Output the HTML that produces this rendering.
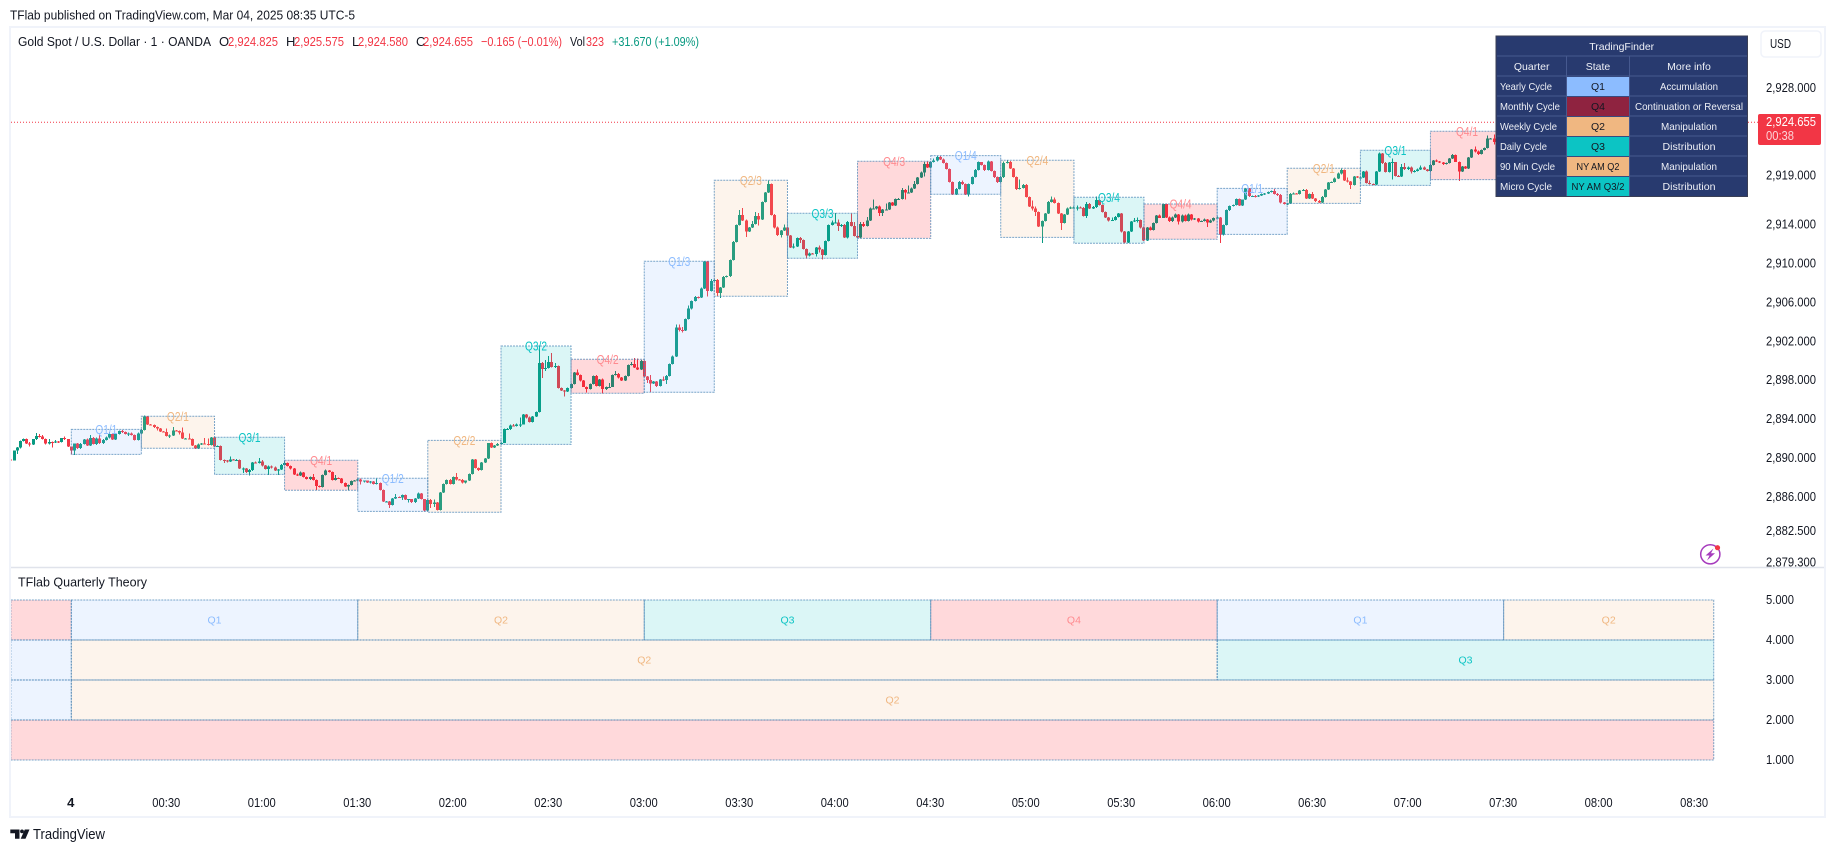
<!DOCTYPE html>
<html lang="en">
<head>
<meta charset="utf-8">
<title>Gold Spot / U.S. Dollar 1m - TFlab Quarterly Theory</title>
<style>
html,body{margin:0;padding:0;background:#fff;width:1835px;height:852px;overflow:hidden}
svg{display:block;font-family:"Liberation Sans",sans-serif}
text{fill:#131722}
.r{fill:#f23645}.g{fill:#089981}
.tb{fill:#eef0f6;font-size:10.5px}
.ts{fill:#131722;font-size:10.5px}
</style>
</head>
<body>
<svg id="chart" xmlns="http://www.w3.org/2000/svg" width="1835" height="852" viewBox="0 0 1835 852">
  <rect x="0" y="0" width="1835" height="852" fill="#fff"/>
  <text x="10" y="19.5" font-size="13" textLength="345" lengthAdjust="spacingAndGlyphs">TFlab published on TradingView.com, Mar 04, 2025 08:35 UTC-5</text>

  <g id="candles" shape-rendering="crispEdges"></g>
  <g id="boxes"></g>
  <line id="priceLine" x1="11" x2="1758" stroke="#f23645" stroke-width="1" stroke-dasharray="1 2"/>

  <g font-size="13">
    <text x="18" y="46" textLength="193" lengthAdjust="spacingAndGlyphs">Gold Spot / U.S. Dollar · 1 · OANDA</text>
    <text x="219" y="46">O</text>
    <text class="r" x="228" y="46" textLength="50" lengthAdjust="spacingAndGlyphs">2,924.825</text>
    <text x="286" y="46">H</text>
    <text class="r" x="294" y="46" textLength="50" lengthAdjust="spacingAndGlyphs">2,925.575</text>
    <text x="352" y="46">L</text>
    <text class="r" x="358" y="46" textLength="50" lengthAdjust="spacingAndGlyphs">2,924.580</text>
    <text x="416" y="46">C</text>
    <text class="r" x="423" y="46" textLength="50" lengthAdjust="spacingAndGlyphs">2,924.655</text>
    <text class="r" x="481" y="46" textLength="81" lengthAdjust="spacingAndGlyphs">−0.165 (−0.01%)</text>
    <text x="570" y="46" textLength="15" lengthAdjust="spacingAndGlyphs">Vol</text>
    <text class="r" x="586" y="46" textLength="18" lengthAdjust="spacingAndGlyphs">323</text>
    <text class="g" x="612" y="46" textLength="87" lengthAdjust="spacingAndGlyphs">+31.670 (+1.09%)</text>
  </g>

  <g>
    <rect x="1496" y="36" width="251.5" height="160.5" fill="#283a6f" stroke="#3a3f55" stroke-width="1"/>
    <g stroke="#46598f" stroke-width="1" shape-rendering="crispEdges">
      <line x1="1497" x2="1747" y1="56" y2="56"/>
      <line x1="1497" x2="1747" y1="76" y2="76"/>
      <line x1="1497" x2="1747" y1="96" y2="96"/>
      <line x1="1497" x2="1747" y1="116" y2="116"/>
      <line x1="1497" x2="1747" y1="136" y2="136"/>
      <line x1="1497" x2="1747" y1="156" y2="156"/>
      <line x1="1497" x2="1747" y1="176" y2="176"/>
      <line x1="1566.5" x2="1566.5" y1="56" y2="196"/>
      <line x1="1629.5" x2="1629.5" y1="56" y2="196"/>
    </g>
    <rect x="1567" y="77" width="62" height="19" fill="#8cbcff"/>
    <rect x="1567" y="97" width="62" height="19" fill="#8f2340"/>
    <rect x="1567" y="117" width="62" height="19" fill="#f0b781"/>
    <rect x="1567" y="137" width="62" height="19" fill="#0cc4c4"/>
    <rect x="1567" y="157" width="62" height="19" fill="#f0b781"/>
    <rect x="1567" y="177" width="62" height="19" fill="#0cc4c4"/>

    <text class="tb" x="1621.7" y="50" text-anchor="middle">TradingFinder</text>
    <text class="tb" x="1531.7" y="70" text-anchor="middle">Quarter</text>
    <text class="tb" x="1598" y="70" text-anchor="middle">State</text>
    <text class="tb" x="1689" y="70" text-anchor="middle">More info</text>

    <text class="tb" x="1500" y="90" textLength="52" lengthAdjust="spacingAndGlyphs">Yearly Cycle</text>
    <text class="tb" x="1500" y="110" textLength="60" lengthAdjust="spacingAndGlyphs">Monthly Cycle</text>
    <text class="tb" x="1500" y="130" textLength="57" lengthAdjust="spacingAndGlyphs">Weekly Cycle</text>
    <text class="tb" x="1500" y="150" textLength="47" lengthAdjust="spacingAndGlyphs">Daily Cycle</text>
    <text class="tb" x="1500" y="170" textLength="55" lengthAdjust="spacingAndGlyphs">90 Min Cycle</text>
    <text class="tb" x="1500" y="190" textLength="52" lengthAdjust="spacingAndGlyphs">Micro Cycle</text>

    <text class="ts" x="1598" y="90" text-anchor="middle">Q1</text>
    <text class="ts" x="1598" y="110" text-anchor="middle">Q4</text>
    <text class="ts" x="1598" y="130" text-anchor="middle">Q2</text>
    <text class="ts" x="1598" y="150" text-anchor="middle">Q3</text>
    <text class="ts" x="1598" y="170" text-anchor="middle" textLength="43" lengthAdjust="spacingAndGlyphs">NY AM Q2</text>
    <text class="ts" x="1598" y="190" text-anchor="middle" textLength="53" lengthAdjust="spacingAndGlyphs">NY AM Q3/2</text>

    <text class="tb" x="1689" y="90" text-anchor="middle" textLength="58" lengthAdjust="spacingAndGlyphs">Accumulation</text>
    <text class="tb" x="1689" y="110" text-anchor="middle" textLength="108" lengthAdjust="spacingAndGlyphs">Continuation or Reversal</text>
    <text class="tb" x="1689" y="130" text-anchor="middle" textLength="56" lengthAdjust="spacingAndGlyphs">Manipulation</text>
    <text class="tb" x="1689" y="150" text-anchor="middle" textLength="53" lengthAdjust="spacingAndGlyphs">Distribution</text>
    <text class="tb" x="1689" y="170" text-anchor="middle" textLength="56" lengthAdjust="spacingAndGlyphs">Manipulation</text>
    <text class="tb" x="1689" y="190" text-anchor="middle" textLength="53" lengthAdjust="spacingAndGlyphs">Distribution</text>
  </g>

  <g>
    <rect x="1761" y="31" width="60" height="26" rx="4" fill="#fff" stroke="#f0f3fa" stroke-width="1.5"/>
    <text x="1770" y="48" font-size="13" textLength="21" lengthAdjust="spacingAndGlyphs">USD</text>
  </g>

  <g id="priceAxis"></g>

  <g>
    <rect x="1758" y="114" width="63" height="31" rx="2" fill="#f23645"/>
    <text x="1766" y="126" font-size="13" textLength="50" lengthAdjust="spacingAndGlyphs" style="fill:#fff">2,924.655</text>
    <text x="1766" y="140" font-size="13" textLength="28" lengthAdjust="spacingAndGlyphs" style="fill:#fcd3d7">00:38</text>
  </g>

  <g>
    <circle cx="1710.3" cy="554.3" r="9.6" fill="#fff" stroke="#a63bbd" stroke-width="1.5"/>
    <polygon points="1713.5,548.5 1705.5,555.5 1709.5,555.5 1707,560.5 1715,553.2 1711,553.2" fill="#a63bbd"/>
    <circle cx="1717.5" cy="547.7" r="2.6" fill="#f23645"/>
  </g>

  <line x1="10" x2="1824" y1="567.5" y2="567.5" stroke="#e0e3eb" stroke-width="1.5"/>
  <text x="18" y="586.5" font-size="13" textLength="129" lengthAdjust="spacingAndGlyphs">TFlab Quarterly Theory</text>

  <g id="pane"></g>
  <g id="paneAxis"></g>
  <g id="timeAxis"></g>

  <g>
    <polygon points="10.3,829.5 19.5,829.5 19.5,838.7 15,838.7 15,833.2 10.3,833.2" fill="#131722"/>
    <circle cx="22" cy="831.4" r="1.9" fill="#131722"/>
    <polygon points="24.8,829.5 29.5,829.5 25.5,838.7 20.7,838.7" fill="#131722"/>
    <text x="33" y="839" font-size="14.5" textLength="72" lengthAdjust="spacingAndGlyphs">TradingView</text>
  </g>

  <rect x="10" y="27" width="1815" height="790" fill="none" stroke="#f0f3fa" stroke-width="2"/>
</svg>

<script>
// ---- candle data (1-minute bars, first bar at minute -19 relative to 00:00) ----
const firstMinute = -19;
const firstOpen = 2889.9;
const lastPrice = 2924.655;
const closes = [
2889.8,2890.8,2891.1,2891.8,2892.0,2891.5,2891.4,2892.0,2892.3,2892.25,
2892.0,2891.5,2891.7,2891.65,2891.75,2891.7,2892.1,2892.0,2891.2,2890.8,
2891.5,2891.05,2891.45,2891.95,2891.3,2892.1,2891.45,2892.05,2891.55,2891.9,
2892.15,2892.5,2891.95,2892.5,2892.8,2892.7,2892.5,2892.55,2892.4,2891.9,
2892.55,2892.9,2894.3,2893.45,2893.4,2893.2,2893.05,2892.75,2892.7,2892.3,
2892.35,2892.85,2892.8,2892.65,2892.05,2892.05,2892.0,2891.3,2891.0,2891.4,
2891.5,2891.45,2891.35,2892.15,2891.2,2891.25,2889.85,2889.8,2889.65,2889.9,
2889.85,2889.85,2888.95,2888.95,2888.6,2888.8,2889.55,2889.5,2889.65,2889.25,
2888.9,2889.15,2889.05,2888.75,2888.85,2889.3,2889.5,2889.2,2888.95,2888.35,
2888.25,2888.55,2888.1,2887.9,2888.1,2887.8,2887.15,2887.05,2888.3,2888.75,
2888.6,2887.8,2888.0,2887.95,2887.45,2887.1,2887.25,2887.65,2887.7,2887.85,
2887.6,2887.7,2887.5,2887.6,2887.35,2887.45,2886.75,2885.55,2885.55,2885.2,
2885.9,2886.05,2886.0,2886.25,2885.75,2885.8,2885.5,2885.9,2886.4,2885.8,
2884.65,2885.7,2885.3,2885.45,2884.7,2886.5,2887.35,2887.8,2887.35,2888.1,
2887.85,2887.8,2887.5,2887.7,2888.4,2889.9,2889.0,2888.8,2889.55,2890.0,
2891.55,2891.1,2891.3,2891.45,2891.6,2893.0,2893.0,2893.35,2893.3,2893.5,
2893.5,2894.5,2894.2,2893.75,2894.3,2894.75,2899.8,2899.15,2899.3,2899.9,
2899.4,2899.5,2897.2,2896.95,2896.85,2897.2,2897.65,2898.8,2898.55,2898.0,
2897.35,2897.1,2897.65,2898.45,2897.45,2898.1,2897.1,2897.35,2897.35,2898.55,
2898.65,2898.3,2898.0,2898.45,2899.6,2899.7,2899.35,2899.1,2900.0,2898.4,
2898.05,2897.7,2897.9,2897.45,2898.1,2898.05,2898.45,2899.7,2900.45,2903.45,
2903.2,2903.1,2904.3,2905.4,2906.15,2906.55,2906.5,2907.45,2910.2,2907.2,
2908.2,2908.3,2906.95,2907.55,2908.6,2908.7,2910.35,2912.2,2913.95,2915.0,
2914.4,2913.3,2913.7,2914.05,2914.9,2914.5,2916.3,2917.3,2918.15,2915.0,
2913.7,2912.95,2913.4,2913.7,2912.9,2911.65,2911.75,2912.6,2912.4,2911.5,
2910.8,2911.05,2911.0,2911.65,2911.45,2910.9,2912.3,2913.95,2914.2,2914.2,
2913.85,2913.95,2912.65,2914.25,2913.85,2912.85,2912.65,2914.05,2913.85,2914.4,
2915.65,2915.65,2915.85,2915.2,2915.55,2915.55,2916.25,2915.95,2916.65,2916.65,
2917.55,2917.3,2917.3,2917.7,2918.15,2918.85,2919.35,2920.2,2919.85,2920.4,
2920.6,2920.95,2920.7,2920.3,2919.7,2918.35,2917.1,2917.65,2918.35,2918.15,
2917.1,2918.15,2918.9,2919.6,2920.4,2920.1,2919.6,2920.5,2919.5,2918.9,
2918.35,2918.9,2920.3,2920.45,2919.75,2918.9,2917.65,2917.75,2918.05,2916.85,
2915.85,2915.65,2915.3,2913.8,2914.35,2915.15,2916.3,2916.6,2916.2,2915.15,
2914.15,2915.05,2915.65,2915.75,2915.75,2915.75,2915.7,2914.9,2916.1,2915.65,
2915.8,2916.5,2916.0,2915.3,2914.75,2914.4,2914.45,2914.8,2915.15,2913.3,
2912.15,2913.3,2914.3,2914.4,2914.45,2913.7,2912.35,2913.7,2913.45,2914.15,
2914.95,2914.7,2916.1,2914.75,2914.35,2914.75,2915.05,2914.3,2914.95,2914.35,
2915.05,2914.5,2914.6,2914.3,2914.35,2914.5,2914.2,2914.4,2914.7,2914.75,
2913.0,2913.95,2915.5,2915.9,2916.0,2916.65,2915.95,2916.55,2917.7,2916.95,
2916.95,2916.9,2917.0,2917.15,2917.2,2917.35,2917.45,2917.15,2917.05,2916.25,
2916.1,2916.15,2917.15,2917.2,2917.15,2917.5,2917.55,2916.7,2917.15,2916.7,
2916.4,2916.25,2916.85,2917.6,2918.3,2918.35,2918.75,2919.25,2919.6,2918.55,
2918.4,2918.05,2918.95,2918.85,2918.85,2919.45,2918.25,2918.15,2918.1,2919.45,
2921.3,2920.3,2919.4,2920.35,2920.4,2919.0,2918.95,2919.9,2919.7,2919.85,
2919.45,2919.5,2919.65,2919.85,2919.65,2919.5,2920.1,2920.6,2920.5,2920.35,
2920.2,2920.3,2920.8,2921.15,2920.45,2919.45,2919.95,2919.75,2920.9,2921.7,
2921.5,2921.25,2921.65,2921.85,2922.85,2922.85,2922.5,2922.3];
const upperWicks = [
.1,0,.05,.05,.05,.05,.2,0,.3,.2,
.15,.05,.3,.05,.15,.05,0,.15,0,0,
0,.05,.1,.05,.1,.3,.1,.1,.35,.1,
.1,.2,.05,.1,.05,.1,.05,.1,.1,.05,
.1,.1,.1,.05,.1,.05,.05,.05,.05,.35,
.1,.35,.05,.05,.5,.05,.5,.05,.05,.1,
.1,.6,.6,.05,.05,.05,.05,.05,.05,.3,
.05,.1,.05,.1,.05,.1,.05,.1,.4,.2,
.05,.1,.1,.1,.05,.1,.3,.05,.05,.05,
.1,.1,.05,.05,.05,.3,.05,.05,.05,.1,
.05,.05,.3,.05,.05,.05,.05,.05,.1,.1,
.1,.05,.05,.05,.05,.5,.05,.05,.05,.05,
.05,.3,.05,.05,.05,.05,.05,.05,.1,.05,
.05,.05,.1,.3,.05,.05,.05,.05,.1,.05,
.4,.05,.1,.05,.05,.05,.05,.05,.05,.05,
.05,.1,.05,.1,.05,.05,.1,.1,.2,.1,
.7,.05,.05,.1,.05,.05,1.8,.1,.8,.6,
.9,.3,.05,.05,.05,.05,.05,.05,.3,.05,
.05,.05,.05,.05,.1,.05,.1,.05,.4,.05,
.3,.1,.05,.05,.05,.2,.6,.9,.1,.05,
.05,.5,.05,.05,.05,.3,.1,.05,.1,.3,
.3,.3,.05,.3,.05,.1,.05,.1,.05,.05,
.2,.05,.1,.05,.1,.05,.05,.1,.05,.5,
.7,.1,.05,.3,.4,.3,.05,.05,.4,.05,
.1,.1,.05,.3,.05,.05,.3,.05,.1,.05,
.05,.1,.05,.05,.2,.05,.05,.05,.2,1.0,
.3,.1,.1,.1,.9,.4,.05,.2,.2,.4,
.1,.9,.05,.1,.05,.6,.05,.05,.05,.1,
.2,.1,.7,.1,.3,.05,.1,.2,.3,.05,
.2,.1,.1,.1,.05,.05,.05,.1,.1,.2,
.05,.05,.05,.1,.1,.05,.05,.1,.05,.05,
.05,.1,.2,.2,.1,.05,.05,.9,.1,.1,
.05,.6,.2,.05,.05,.05,.1,.3,.2,.05,
.05,.05,.1,.1,.1,.2,.1,.1,.2,.1,
.1,.4,.1,.05,.05,.05,.3,.1,.05,.05,
.05,.05,.05,.3,.3,.05,.1,.05,.1,.05,
.05,.1,.05,.05,.1,.1,.1,.05,.1,.1,
.1,.05,.1,.05,.05,.1,.05,.1,.05,.1,
.05,.05,.05,.05,.05,.05,.05,.05,.05,.05,
.05,.1,.05,.05,.05,.05,.05,.2,.1,.1,
.05,.05,.1,.1,.05,.05,.1,.1,.05,.2,
.05,.1,.1,.05,.05,.05,.1,.1,.15,.05,
.3,.05,.05,.05,.05,.05,.1,.3,.05,.05,
.1,.05,.1,.05,.4,.05,.1,.3,.4,.1,
.1,.1,.1,.2,.1,.05,.1,.05,.1,.05,
.05,.05,.05,.1,.05,.05,.05,.05,.05,.05,
.3,.1,.05,.05,.3,.05,.4,.1];
const lowerWicks = [
.05,0,.35,.1,.05,.05,.2,.05,.1,.1,
.05,.1,.1,.55,.1,.15,.05,.1,.05,.4,
.45,.1,.1,.05,.05,.05,.05,.1,.1,.1,
.05,.1,.05,.05,.05,.1,.05,.2,.05,.05,
.05,.05,.05,.05,.05,.1,.2,.05,.05,.05,
.2,.05,.05,.2,.05,.05,.05,.05,.05,.05,
.05,.05,.05,.05,.05,.05,.05,.3,.1,.05,
.05,.1,.05,.45,.1,.35,.1,.05,.05,.1,
.05,.6,.1,.05,.45,.05,.05,.05,.1,.05,
.05,.05,.05,.05,.1,.05,.4,.05,.05,.05,
.05,.05,.05,.05,.05,.05,.4,.05,.05,.05,
.3,.1,.05,.1,.05,.05,.05,.05,.05,.3,
.05,.05,.05,.3,.05,.3,.1,.1,.05,.05,
.1,.05,.4,.3,.05,.05,.05,.05,.05,.05,
.1,.05,.1,.1,.05,.05,.05,.1,.05,.05,
.05,.05,.05,.05,.05,.05,.05,.1,.05,.05,
.3,.05,.1,.05,.05,.05,.05,.9,.2,.1,
.05,.1,.05,.05,.5,.05,.05,.05,.05,.1,
.05,.35,.05,.05,.05,.05,.45,.1,.05,.05,
.05,.1,.05,.05,.05,.05,.1,.05,.05,.05,
.3,.9,.05,.1,.05,.1,.4,.05,.05,.05,
.2,.2,.05,.05,.1,.05,.1,.05,.05,.6,
.05,.05,.3,.5,.05,.05,.1,.05,.05,.05,
.05,.6,.05,.05,.05,.6,.05,.05,.05,.05,
.1,.1,.3,.05,.05,.05,.1,.05,.3,.05,
.3,.1,.05,.3,.3,.5,.05,.05,.05,.05,
.5,.1,.05,.1,.05,.05,.05,.05,.1,.05,
.05,.1,.1,.3,.3,.05,.05,.05,.05,.05,
.05,.7,.05,.05,.05,.05,.05,.4,.05,.05,
.05,.1,.05,.05,.05,.05,.05,.05,.05,.1,
.05,.2,.05,.05,.05,.05,.1,.05,.05,.1,
.1,.05,.1,.05,.05,.05,.1,.05,.05,.05,
.05,.2,.4,.05,1.7,.05,.05,.05,.05,.05,
.7,.05,.05,.05,.05,.3,.05,.05,.2,.05,
.05,.1,.05,.05,.05,.1,.05,.05,.05,.1,
.1,.05,.05,.05,.2,.1,.05,.05,.05,.05,
.05,.05,.05,.05,.1,.1,.05,.3,.1,.05,
.05,.1,.05,.1,.05,.05,.45,.05,.1,.05,
.9,.1,.05,.1,.05,.05,.05,.05,.05,.1,
.05,.1,.05,.05,.1,.05,.05,.05,.1,.1,
.05,.1,.05,.05,.05,.05,.05,.05,.05,.05,
.1,.05,.05,.05,.05,.05,.05,.05,.1,.05,
.1,.4,.05,.05,.05,.05,.05,.05,.05,.05,
.05,.1,.05,.05,1.7,.05,.05,.05,.1,.1,
.2,.1,.05,.05,.05,.05,.05,.05,.05,.05,
.1,.05,.05,.05,.05,1.0,.05,.05,.05,.05,
.1,.1,.05,.05,.05,.05,.3,.1];

// ---- micro-quarter boxes on the price pane ----
const boxLabels = ["Q1/1","Q2/1","Q3/1","Q4/1","Q1/2","Q2/2","Q3/2","Q4/2","Q1/3","Q2/3","Q3/3","Q4/3","Q1/4","Q2/4","Q3/4","Q4/4","Q1/1","Q2/1","Q3/1","Q4/1"];
const boxStarts = [0,22,45,67,90,112,135,157,180,202,225,247,270,292,315,337,360,382,405,427];
const boxEnds = [22,45,67,90,112,135,157,180,202,225,247,270,292,315,337,360,382,405,427,450];
const boxHighs = [2892.98,2894.32,2892.16,2889.80,2887.95,2891.85,2901.53,2900.17,2910.23,2918.55,2915.16,2920.50,2921.08,2920.60,2916.80,2916.11,2917.72,2919.78,2921.63,2923.58];
const boxLows = [2890.41,2891.03,2888.36,2886.72,2884.56,2884.46,2891.44,2896.68,2896.78,2906.64,2910.54,2912.59,2917.11,2912.69,2912.08,2912.49,2913.00,2916.18,2918.03,2918.61];

// ---- axes ----
const priceTicks = [2928,2919,2914,2910,2906,2902,2898,2894,2890,2886,2882.5,2879.3];
const paneTicks = [5,4,3,2,1];
const timeTickLabels = ["4","00:30","01:00","01:30","02:00","02:30","03:00","03:30","04:00","04:30","05:00","05:30","06:00","06:30","07:00","07:30","08:00","08:30"];
const timeTickMinutes = [0,30,60,90,120,150,180,210,240,270,300,330,360,390,420,450,480,510];

// ---- quarterly theory pane segments ----
const paneLevels = [4,4,4,4,4,4,4,3,3,3,2,2,1];
const paneStarts = [-19,0,90,180,270,360,450,-19,0,360,-19,0,-19];
const paneEnds = [0,90,180,270,360,450,516,0,360,516,0,516,516];
const paneQuarters = ["Q4","Q1","Q2","Q3","Q4","Q1","Q2","Q1","Q2","Q3","Q1","Q2","Q4"];
const paneLabels = ["","Q1","Q2","Q3","Q4","Q1","Q2","","Q2","Q3","","Q2",""];

const quarterFill = {Q1:"rgba(140,188,255,.16)",Q2:"rgba(240,183,129,.15)",Q3:"rgba(12,196,196,.15)",Q4:"rgba(255,0,16,.15)"};
const quarterText = {Q1:"#8cbcff",Q2:"#f0b781",Q3:"#0cc4c4",Q4:"#ff8a8f"};
const boxStroke = "rgba(70,130,180,.72)";
const SVGNS = "http://www.w3.org/2000/svg";

function xScale(minute){ return 71.3 + 3.183 * minute; }
function yScale(price){ return 497.3 + (2886 - price) * 9.74; }
function paneY(value){ return 760 - (value - 1) * 40; }
function make(tag, attrs){
  const el = document.createElementNS(SVGNS, tag);
  for (const k in attrs) el.setAttribute(k, attrs[k]);
  return el;
}

// candles
const candleGroup = document.getElementById("candles");
closes.forEach(function(close, i){
  const open = i === 0 ? firstOpen : closes[i - 1];
  const up = close >= open;
  const color = up ? "#089981" : "#f23645";
  const left = Math.round(xScale(firstMinute + i) - 1.5);
  const top = Math.max(open, close), bottom = Math.min(open, close);
  const wick = make("rect", {x: left + 1, y: yScale(top + upperWicks[i]), width: 1, height: Math.max(1, yScale(bottom - lowerWicks[i]) - yScale(top + upperWicks[i])), fill: color});
  
  
  candleGroup.appendChild(wick);
  const body = make("rect", {x: left, y: yScale(top), width: 3, height: Math.max(1, yScale(bottom) - yScale(top)), fill: color});
  
  
  candleGroup.appendChild(body);
});

// quarter boxes
const boxGroup = document.getElementById("boxes");
boxLabels.forEach(function(label, i){
  const q = label.slice(0, 2);
  const x0 = xScale(boxStarts[i]), x1 = xScale(boxEnds[i]);
  const y0 = yScale(boxHighs[i]), y1 = yScale(boxLows[i]);
  const rect = make("rect", {x: x0, y: y0, width: x1 - x0, height: y1 - y0, fill: quarterFill[q], stroke: boxStroke, "stroke-width": 1, "stroke-dasharray": "2 1"});
  
  
  boxGroup.appendChild(rect);
  const t = make("text", {x: (x0 + x1) / 2, y: y0 + 4.5, "text-anchor": "middle", "font-size": 12.5, textLength: 22, lengthAdjust: "spacingAndGlyphs"});
  
  
  t.style.fill = quarterText[q];
  t.textContent = label;
  boxGroup.appendChild(t);
});

// last price line
const pl = document.getElementById("priceLine");
pl.setAttribute("y1", yScale(lastPrice) + 1.4);
pl.setAttribute("y2", yScale(lastPrice) + 1.4);

// price axis
const priceAxis = document.getElementById("priceAxis");
priceTicks.forEach(function(p){
  const t = make("text", {x: 1766, y: yScale(p) + 3.8, "font-size": 13, textLength: 50, lengthAdjust: "spacingAndGlyphs"});
  
  
  t.textContent = p.toLocaleString("en-US", {minimumFractionDigits: 3, maximumFractionDigits: 3});
  priceAxis.appendChild(t);
});

// indicator pane
const pane = document.getElementById("pane");
paneLevels.forEach(function(level, i){
  const x0 = Math.max(8, xScale(paneStarts[i])), x1 = xScale(paneEnds[i]);
  const y0 = paneY(level + 1), y1 = paneY(level);
  const rect = make("rect", {x: x0, y: y0, width: x1 - x0, height: y1 - y0, fill: quarterFill[paneQuarters[i]], stroke: boxStroke, "stroke-width": 1, "stroke-dasharray": "2 1"});
  
  
  pane.appendChild(rect);
  if (paneLabels[i]) {
    const t = make("text", {x: (x0 + x1) / 2, y: (y0 + y1) / 2 + 3.5, "text-anchor": "middle", "font-size": 10.5});
    
    
    t.style.fill = quarterText[paneQuarters[i]];
    t.textContent = paneLabels[i];
    pane.appendChild(t);
  }
});

// indicator axis
const paneAxis = document.getElementById("paneAxis");
paneTicks.forEach(function(v){
  const t = make("text", {x: 1766, y: paneY(v) + 3.8, "font-size": 13, textLength: 28, lengthAdjust: "spacingAndGlyphs"});
  
  
  t.textContent = v.toFixed(3);
  paneAxis.appendChild(t);
});

// time axis
const timeAxis = document.getElementById("timeAxis");
timeTickLabels.forEach(function(label, i){
  const t = make("text", {x: xScale(timeTickMinutes[i]) - 0.5, y: 807, "text-anchor": "middle", "font-size": 13});
  
  
  if (label.length > 1) {
    t.setAttribute("textLength", 28);
    t.setAttribute("lengthAdjust", "spacingAndGlyphs");
  } else {
    t.setAttribute("font-weight", "bold");
  }
  t.textContent = label;
  timeAxis.appendChild(t);
});
</script>
</body>
</html>
